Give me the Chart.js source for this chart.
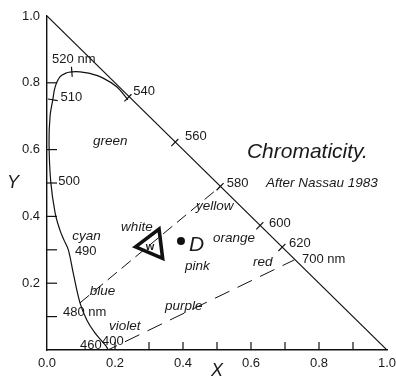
<!DOCTYPE html>
<html>
<head>
<meta charset="utf-8">
<script src="https://cdn.jsdelivr.net/npm/chart.js@4.4.1/dist/chart.umd.min.js"></script>
<style>
  html, body { margin: 0; padding: 0; background: #fff; }
  #wrap { width: 396px; height: 377px; }
</style>
</head>
<body>
<div id="wrap"><canvas id="chromaChart" width="396" height="377"></canvas></div>
<script>
// spectral locus, 400 nm -> 540 nm (after 540 it runs along x+y=1)
const locusX = [0.179, 0.171, 0.141, 0.117, 0.097, 0.077, 0.063, 0.050, 0.038, 0.024, 0.011, 0.006, 0.009, 0.017, 0.024, 0.038, 0.058, 0.073, 0.097, 0.126, 0.165, 0.205, 0.238];
const locusY = [0.003, 0.015, 0.051, 0.090, 0.141, 0.231, 0.299, 0.329, 0.359, 0.410, 0.504, 0.620, 0.700, 0.749, 0.788, 0.818, 0.830, 0.833, 0.833, 0.828, 0.814, 0.788, 0.749];

// the x + y = 1 line
const edgeX = [0, 1];
const edgeY = [1, 0];

// wavelength markers (nm) on the locus
const markNm = [510, 520, 540, 560, 580, 600, 620];
const markX = [0.017, 0.073, 0.238, 0.376, 0.509, 0.626, 0.691];
const markY = [0.749, 0.833, 0.755, 0.621, 0.489, 0.372, 0.307];

// 480 nm -> white -> 580 nm, and the line of purples 400 -> 700 nm
const blueYellowX = [0.097, 0.509];
const blueYellowY = [0.141, 0.489];
const purpleX = [0.179, 0.728];
const purpleY = [0.0, 0.270];

// white point W and point D
const whiteX = [0.310];
const whiteY = [0.315];
const pointDX = [0.394];
const pointDY = [0.326];

// axis tick marks and labels
const xTickMarks = [0.2, 0.3, 0.4, 0.5, 0.6, 0.7, 0.8, 0.9];
const yTickMarks = [0.1, 0.2, 0.3, 0.4, 0.5, 0.6, 0.8];
const tickStep = 0.2;

const pts = (xs, ys) => xs.map((v, i) => ({ x: v, y: ys[i] }));

// text placed on the diagram: [text, x, y, kind, align]
const notes = [
  ['520 nm', 0.015, 0.871, 'num'],
  ['510', 0.040, 0.757, 'num'],
  ['540', 0.254, 0.775, 'num'],
  ['560', 0.406, 0.638, 'num'],
  ['580', 0.529, 0.500, 'num'],
  ['600', 0.653, 0.380, 'num'],
  ['620', 0.712, 0.320, 'num'],
  ['700 nm', 0.750, 0.272, 'num'],
  ['500', 0.033, 0.504, 'num'],
  ['490', 0.082, 0.296, 'num'],
  ['480 nm', 0.047, 0.114, 'num'],
  ['460', 0.097, 0.015, 'num'],
  ['400', 0.162, 0.027, 'num'],
  ['green', 0.135, 0.626, 'it'],
  ['yellow', 0.438, 0.431, 'it'],
  ['white', 0.218, 0.368, 'it'],
  ['cyan', 0.074, 0.341, 'it'],
  ['blue', 0.126, 0.177, 'it'],
  ['violet', 0.182, 0.072, 'it'],
  ['orange', 0.488, 0.335, 'it'],
  ['pink', 0.406, 0.251, 'it'],
  ['red', 0.606, 0.263, 'it'],
  ['purple', 0.347, 0.132, 'it'],
  ['D', 0.418, 0.314, 'big'],
  ['Chromaticity.', 0.588, 0.593, 'big'],
  ['After Nassau 1983', 0.644, 0.500, 'it'],
  ['w', 0.303, 0.308, 'w', 'center'],
  ['X', 0.5, -0.063, 'axis', 'center'],
  ['Y', -0.118, 0.5, 'axis']
];

const FAMILY = '"Liberation Sans", Arial, Helvetica, sans-serif';
const fonts = {
  num: '13px ' + FAMILY,
  it: 'italic 13.5px ' + FAMILY,
  big: 'italic 21px ' + FAMILY,
  axis: 'italic 18px ' + FAMILY,
  w: 'bold 11px ' + FAMILY
};

/* ---- extra drawing: inward ticks, wavelength ticks, text ---- */
const overlay = {
  id: 'overlay',
  afterDatasetsDraw(chart) {
    const { ctx, scales } = chart;
    const px = v => scales.x.getPixelForValue(v);
    const py = v => scales.y.getPixelForValue(v);
    const seg = (x1, y1, x2, y2) => {
      ctx.beginPath();
      ctx.moveTo(x1, y1);
      ctx.lineTo(x2, y2);
      ctx.stroke();
    };

    ctx.save();
    ctx.strokeStyle = '#111';
    ctx.lineWidth = 1.2;

    xTickMarks.forEach(v => seg(px(v), py(0), px(v), py(0) - 8));
    yTickMarks.forEach(v => seg(px(0), py(v), px(0) + 10, py(v)));

    // wavelength ticks, perpendicular to the locus / edge
    markNm.forEach((nm, i) => {
      const x0 = px(markX[i]), y0 = py(markY[i]);
      let dx, dy;
      if (Math.abs(markX[i] + markY[i] - 1) < 0.03) {
        dx = px(1) - px(0);
        dy = py(0) - py(1);
      } else {
        let best = 0, bestD = Infinity;
        locusX.forEach((lx, j) => {
          const d = Math.hypot(lx - markX[i], locusY[j] - markY[i]);
          if (d < bestD) { bestD = d; best = j; }
        });
        const a = Math.max(best - 1, 0), b = Math.min(best + 1, locusX.length - 1);
        dx = px(locusX[b]) - px(locusX[a]);
        dy = py(locusY[b]) - py(locusY[a]);
      }
      const len = Math.hypot(dx, dy);
      const nx = -dy / len * 5, ny = dx / len * 5;
      seg(x0 - nx, y0 - ny, x0 + nx, y0 + ny);
    });

    ctx.fillStyle = '#1a1a1a';
    ctx.textBaseline = 'middle';
    notes.forEach(([text, x, y, kind, align]) => {
      ctx.font = fonts[kind];
      ctx.textAlign = align || 'left';
      ctx.fillText(text, px(x), py(y));
    });
    ctx.restore();
  }
};

const lineSet = (data, extra) => Object.assign({
  data,
  showLine: true,
  borderColor: '#111',
  borderWidth: 1.2,
  pointRadius: 0,
  fill: false
}, extra);

new Chart(document.getElementById('chromaChart'), {
  type: 'scatter',
  data: {
    datasets: [
      lineSet(pts(edgeX, edgeY), { label: 'x+y=1' }),
      lineSet(pts(locusX, locusY), { label: 'locus', tension: 0.35 }),
      lineSet(pts(blueYellowX, blueYellowY), { label: 'blue-yellow', borderWidth: 1, borderDash: [12, 6] }),
      lineSet(pts(purpleX, purpleY), { label: 'purples', borderWidth: 1, borderDash: [16, 9], borderDashOffset: 6 }),
      {
        label: 'W',
        data: pts(whiteX, whiteY),
        pointStyle: 'triangle',
        rotation: 263,
        pointRadius: 17,
        borderWidth: 3.6,
        borderColor: '#111',
        backgroundColor: '#fff'
      },
      {
        label: 'D',
        data: pts(pointDX, pointDY),
        pointRadius: 4,
        borderWidth: 0,
        backgroundColor: '#111'
      }
    ]
  },
  options: {
    responsive: false,
    animation: false,
    events: [],
    layout: { autoPadding: false, padding: { left: 0, top: 16, right: 9, bottom: 0 } },
    plugins: {
      legend: { display: false },
      tooltip: { enabled: false }
    },
    scales: {
      x: {
        type: 'linear',
        min: 0,
        max: 1,
        grid: { display: false, drawTicks: false },
        border: { display: true, color: '#111', width: 1.4 },
        ticks: {
          stepSize: tickStep,
          padding: 6,
          color: '#1a1a1a',
          font: { family: FAMILY, size: 13 },
          maxRotation: 0,
          autoSkip: false,
          callback: v => v.toFixed(1)
        },
        afterFit: s => {
          s.height = 27;
          s.paddingLeft = 0;
          s.paddingRight = 0;
        }
      },
      y: {
        type: 'linear',
        min: 0,
        max: 1,
        grid: { display: false, drawTicks: false },
        border: { display: true, color: '#111', width: 1.4 },
        ticks: {
          stepSize: tickStep,
          padding: 7,
          color: '#1a1a1a',
          font: { family: FAMILY, size: 13 },
          callback: v => (v === 0 ? null : v.toFixed(1))
        },
        afterFit: s => {
          s.width = 47;
          s.paddingTop = 0;
          s.paddingBottom = 0;
        }
      }
    }
  },
  plugins: [overlay]
});
</script>
</body>
</html>
